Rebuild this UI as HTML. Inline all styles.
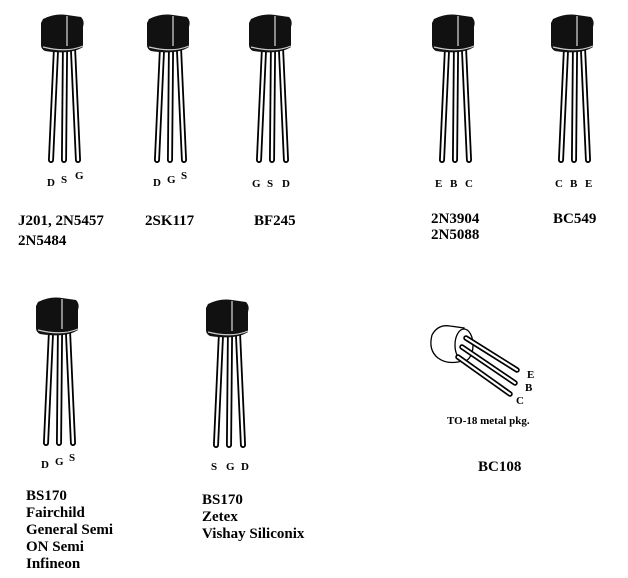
<!DOCTYPE html>
<html><head><style>
html,body{margin:0;padding:0;background:#fff;width:628px;height:578px;overflow:hidden}
svg{display:block}
text{font-family:"Liberation Serif",serif;font-weight:bold;fill:#000}
.l{font-size:11px}
.t{font-size:15px}
</style></head><body>
<svg width="628" height="578" viewBox="0 0 628 578">
<defs>
<g id="tr">
  <g stroke-linecap="round" fill="none">
    <path d="M15 36 L10 147 M24 36 L23 147 M32 36 L37 147" stroke="#000" stroke-width="6"/>
    <path d="M15 36 L10 147 M24 36 L23 147 M32 36 L37 147" stroke="#fff" stroke-width="2.4"/>
  </g>
  <path d="M2 6 Q14 0 26 2 L40 4 Q44 8 42 14 L42 34 Q30 42 4 38 Q0 36 0 32 L0 10 Z" fill="#111"/>
  <path d="M26 3 L26 33" stroke="#ddd" stroke-width="1.2"/>
  <path d="M2 34 Q26 40 42 33" stroke="#ccc" stroke-width="1.2" fill="none"/>
</g>
</defs>
<use href="#tr" x="41" y="13"/>
<use href="#tr" x="147" y="13"/>
<use href="#tr" x="249" y="13"/>
<use href="#tr" x="432" y="13"/>
<use href="#tr" x="551" y="13"/>
<use href="#tr" x="36" y="296"/>
<use href="#tr" x="206" y="298"/>

<text class="l" x="47" y="186">D</text><text class="l" x="61" y="183">S</text><text class="l" x="75" y="179">G</text>
<text class="l" x="153" y="186">D</text><text class="l" x="167" y="183">G</text><text class="l" x="181" y="179">S</text>
<text class="l" x="252" y="187">G</text><text class="l" x="267" y="187">S</text><text class="l" x="282" y="187">D</text>
<text class="l" x="435" y="187">E</text><text class="l" x="450" y="187">B</text><text class="l" x="465" y="187">C</text>
<text class="l" x="555" y="187">C</text><text class="l" x="570" y="187">B</text><text class="l" x="585" y="187">E</text>
<text class="l" x="41" y="468">D</text><text class="l" x="55" y="465">G</text><text class="l" x="69" y="461">S</text>
<text class="l" x="211" y="470">S</text><text class="l" x="226" y="470">G</text><text class="l" x="241" y="470">D</text>

<text class="t" x="18" y="225">J201, 2N5457</text>
<text class="t" x="18" y="245">2N5484</text>
<text class="t" x="145" y="225">2SK117</text>
<text class="t" x="254" y="225">BF245</text>
<text class="t" x="431" y="223">2N3904</text>
<text class="t" x="431" y="239">2N5088</text>
<text class="t" x="553" y="223">BC549</text>
<text class="t" x="26" y="500">BS170</text>
<text class="t" x="26" y="517">Fairchild</text>
<text class="t" x="26" y="534">General Semi</text>
<text class="t" x="26" y="551">ON Semi</text>
<text class="t" x="26" y="568">Infineon</text>
<text class="t" x="202" y="504">BS170</text>
<text class="t" x="202" y="521">Zetex</text>
<text class="t" x="202" y="538">Vishay Siliconix</text>
<text class="t" x="478" y="471">BC108</text>
<text x="447" y="424" style="font-size:11px">TO-18 metal pkg.</text>

<!-- TO-18 -->
<g stroke="#000" stroke-width="1.3">
  <path d="M450 326 Q438 324 432 335 Q428 350 438 358 Q446 364 458 362 L466 360 L464 328 Z" fill="#fff"/>
  <ellipse cx="464" cy="345" rx="9" ry="16" fill="#fff"/>
</g>
<g stroke-linecap="round" fill="none">
  <path d="M466 338 L517 370 M462 347 L515 383 M458 357 L510 394" stroke="#000" stroke-width="5.5"/>
  <path d="M466 338 L517 370 M462 347 L515 383 M458 357 L510 394" stroke="#fff" stroke-width="2.2"/>
</g>
<text class="l" x="527" y="378">E</text>
<text class="l" x="525" y="391">B</text>
<text class="l" x="516" y="404">C</text>
</svg>
</body></html>
